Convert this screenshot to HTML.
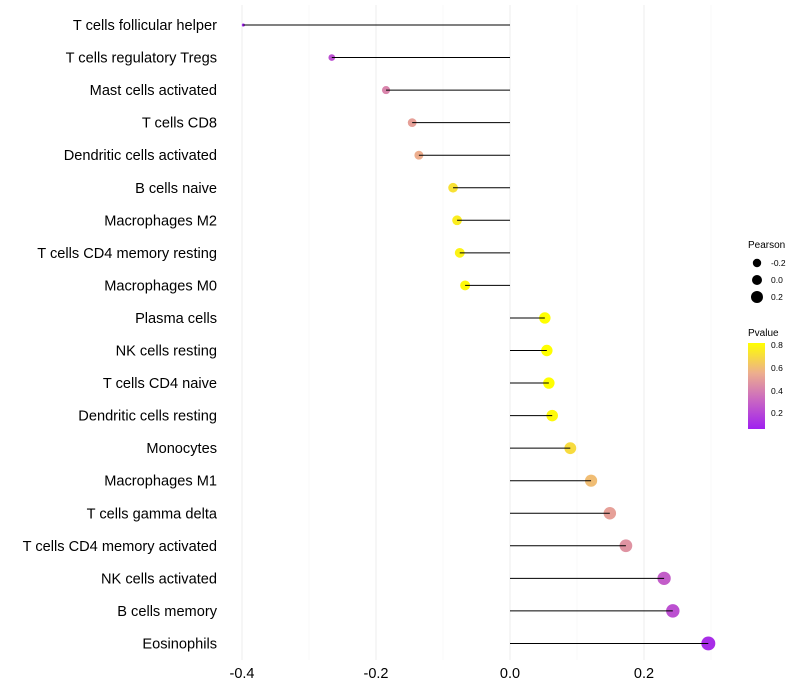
<!DOCTYPE html>
<html><head><meta charset="utf-8"><style>
body{margin:0;background:#fff;font-family:"Liberation Sans",sans-serif;}
svg{display:block}
</style></head><body>
<svg id="chart" width="800" height="700">
<defs><linearGradient id="pg" x1="0" y1="1" x2="0" y2="0">
<stop offset="0" stop-color="#A020F0"/><stop offset="0.35" stop-color="#CB6AC0"/><stop offset="0.65" stop-color="#EDAE8E"/><stop offset="1" stop-color="#FFFF00"/></linearGradient></defs>
<g id="grid"></g>
<g id="points"></g>
<g id="marks"></g>
<g id="ylabels"></g>
<g id="xticks"></g>
<g font-size="10" fill="#000">
<text x="748" y="248">Pearson</text>
<circle cx="757" cy="263" r="4.2"/>
<text x="771" y="266" font-size="8.5">-0.2</text>
<circle cx="757" cy="280" r="5"/>
<text x="771" y="283" font-size="8.5">0.0</text>
<circle cx="757" cy="297" r="6"/>
<text x="771" y="300" font-size="8.5">0.2</text>
</g>
<g font-size="10">
<text x="748" y="336">Pvalue</text>
<rect x="748" y="343" width="17" height="86" fill="url(#pg)"/>
<g font-size="8.5">
<text x="771" y="348">0.8</text>
<text x="771" y="371">0.6</text>
<text x="771" y="394">0.4</text>
<text x="771" y="416">0.2</text>
</g></g>
</svg>
<script>
const categories=["T cells follicular helper","T cells regulatory  Tregs","Mast cells activated","T cells CD8","Dendritic cells activated","B cells naive","Macrophages M2","T cells CD4 memory resting","Macrophages M0","Plasma cells","NK cells resting","T cells CD4 naive","Dendritic cells resting","Monocytes","Macrophages M1","T cells gamma delta","T cells CD4 memory activated","NK cells activated","B cells memory","Eosinophils"];
const pearson=[-0.398,-0.266,-0.185,-0.146,-0.136,-0.085,-0.079,-0.075,-0.067,0.052,0.055,0.058,0.063,0.090,0.121,0.149,0.173,0.230,0.243,0.296];
const pvalue=[0.03,0.2,0.4,0.5,0.55,0.72,0.76,0.78,0.8,0.82,0.82,0.82,0.8,0.7,0.6,0.5,0.45,0.25,0.2,0.07];
const xTicks=[-0.4,-0.2,0.0,0.2];
const xTickLabels=["-0.4","-0.2","0.0","0.2"];
const xMinor=[-0.3,-0.1,0.1,0.3];
const NS="http://www.w3.org/2000/svg";
const X=v=>510+v*670;
const Y=i=>25+i*32.55;
const R=v=>Math.sqrt(Math.max(1.5,2.25+66.8*(v+0.4)));
function col(p){
 const stops=[[0.02,[160,32,240]],[0.3,[203,106,192]],[0.55,[237,174,142]],[0.82,[255,255,0]]];
 if(p<=stops[0][0])return `rgb(${stops[0][1]})`;
 for(let k=1;k<stops.length;k++){if(p<=stops[k][0]){const t=(p-stops[k-1][0])/(stops[k][0]-stops[k-1][0]);const a=stops[k-1][1],b=stops[k][1];return `rgb(${a.map((c,j)=>Math.round(c+(b[j]-c)*t)).join(',')})`;}}
 return "rgb(255,255,0)";
}
function mk(t,a,p){const e=document.createElementNS(NS,t);for(const k in a)e.setAttribute(k,a[k]);p.appendChild(e);return e;}
const grid=document.getElementById('grid'),marks=document.getElementById('marks'),pts=document.getElementById('points'),yl=document.getElementById('ylabels'),xt=document.getElementById('xticks');
xMinor.forEach(v=>{const l=mk('line',{x1:X(v),x2:X(v),y1:5,y2:660,stroke:'#f5f5f5','stroke-width':0.6},grid);

});
xTicks.forEach((v,i)=>{const l=mk('line',{x1:X(v),x2:X(v),y1:5,y2:660,stroke:'#eeeeee','stroke-width':1},grid);


const t=mk('text',{x:X(v),y:678,'text-anchor':'middle','font-size':14.5,fill:'#000'},xt);t.textContent=xTickLabels[i];

});
categories.forEach((c,i)=>{
 const y=Y(i);
 const t=mk('text',{x:217,y:y+5,'text-anchor':'end','font-size':14.6,fill:'#000'},yl);t.textContent=c;
 
 
 const d=mk('circle',{cx:X(pearson[i]),cy:y,r:R(pearson[i]),fill:col(pvalue[i])},pts);
 
 
 const l=mk('line',{x1:X(0),x2:X(pearson[i]),y1:y,y2:y,stroke:'#000','stroke-width':1},marks);
 
 
});
</script>
</body></html>
